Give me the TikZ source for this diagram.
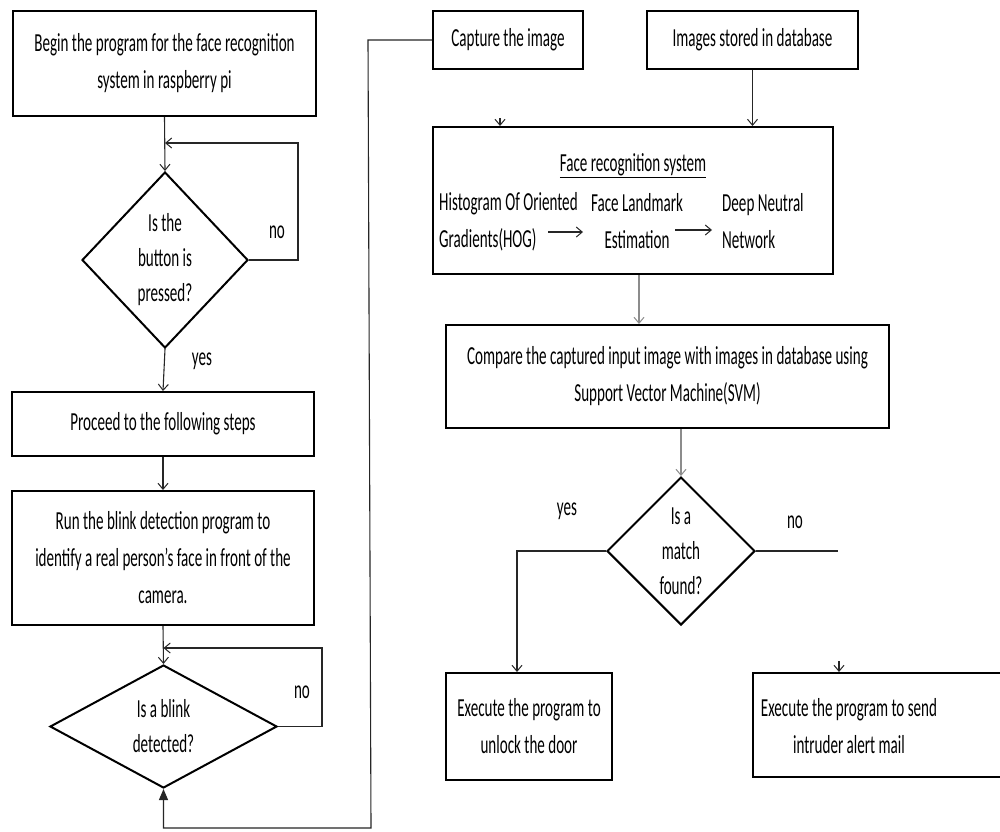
\documentclass[tikz,border=0pt]{standalone}
\usepackage{fontspec}
\setmainfont{Carlito}[FakeStretch=0.58]
\usetikzlibrary{shapes.geometric,arrows.meta}
\tikzset{
  every node/.style={font=\fontsize{26}{37}\selectfont, inner sep=0pt},
  stepbox/.style={draw=black, line width=2pt, rectangle, align=center},
  dia/.style={draw=black, line width=2pt, diamond, aspect=1},
  lbl/.style={align=center, font=\fontsize{26}{35}\selectfont},
  conn/.style={line width=1.1pt, draw=black!85},
  arr/.style={conn, -{Straight Barb[length=6pt,width=10pt,line width=1pt]}},
  garr/.style={arr, draw=black!45},
  farr/.style={conn, -{Triangle[length=11pt,width=9pt]}},
  txt/.style={align=center},
}
\begin{document}
\begin{tikzpicture}[x=1pt,y=-1pt]
\useasboundingbox (0,0) rectangle (1000,831);
\fill[white] (0,0) rectangle (1000,831);

% ---------- left column ----------
\node[stepbox, minimum width=303, minimum height=105] (b1) at (164.5,63.5)
  {Begin the program for the face recognition\\system in raspberry pi};
\node[dia, minimum width=166, minimum height=176,
  label={[lbl]center:{Is the\\button is\\pressed?}}] (d1) at (165,260) {};
\node (no1) at (277,232) {no};
\coordinate (l1) at (298,143);

\node[stepbox, minimum width=302, minimum height=64] (b2) at (163,424)
  {Proceed to the following steps};
\node (yes1) at (202,361) {yes};

\node[stepbox, minimum width=302, minimum height=134] (b3) at (163,558)
  {Run the blink detection program to\\identify a real person’s face in front of the\\camera.};

\node[dia, minimum width=227, minimum height=123,
  label={[lbl]center:{Is a blink\\detected?}}] (d2) at (163.5,726.5) {};
\node (no2) at (302,692) {no};
\coordinate (l2) at (322,648);

\draw[arr] (b1.south) -- (d1.north);
\draw[arr] (d1.east) -| (l1) -- (l1 -| d1.north);
\draw[arr] (d1.south) -- (b2.north);
\draw[arr] (b2.south) -- (b3.north);
\draw[arr] (b3.south) -- (d2.north);
\draw[arr] (d2.east) -| (l2) -- (l2 -| d2.north);

% ---------- right column ----------
\node[stepbox, minimum width=150, minimum height=58] (cap) at (508,40)
  {Capture the image};
\node[stepbox, minimum width=211, minimum height=58] (db) at (752.5,40)
  {Images stored in database};

\node[stepbox, minimum width=400, minimum height=147] (fr) at (633,200.5) {};
\node[txt] (frt) at (633,166) {\underline{Face recognition system}};
\node[align=left, anchor=west] (hog) at (439,221.5) {Histogram Of Oriented\\Gradients(HOG)};
\node[txt] (fle) at (637,221.5) {Face Landmark\\Estimation};
\node[align=left, anchor=west] (dnn) at (722,221.5) {Deep Neutral\\Network};
\coordinate (a1s) at (548,232);
\coordinate (a1e) at (583,232);
\coordinate (a2s) at (675,230);
\coordinate (a2e) at (712,230);
\draw[arr] (a1s) -- (a1e);
\draw[arr] (a2s) -- (a2e);

\coordinate (capstub) at (500,118);
\draw[arr] (capstub) -- (capstub |- fr.north);
\draw[arr] (db.south) -- (db.south |- fr.north);

\node[stepbox, minimum width=443, minimum height=103] (cmp) at (667.5,376.5)
  {Compare the captured input image with images in database using\\Support Vector Machine(SVM)};
\draw[garr] ([xshift=6pt]fr.south) -- ([xshift=6pt]fr.south |- cmp.north);

\node[dia, minimum width=148, minimum height=148,
  label={[lbl]center:{Is a\\match\\found?}}] (d3) at (681,551) {};
\draw[garr] (d3.north |- cmp.south) -- (d3.north);
\node (yes3) at (567,511) {yes};
\node (no3) at (795,522) {no};

\node[stepbox, minimum width=166, minimum height=107] (ul) at (529,726.5)
  {Execute the program to\\unlock the door};
\draw[arr] (d3.west) -| ([xshift=-12pt]ul.north);

\node[stepbox, minimum width=252, minimum height=104] (ia) at (879,725) {};
\node[txt] (iat) at (849,726) {Execute the program to send\\intruder alert mail};
\coordinate (noend) at (838,551);
\draw[conn] (d3.east) -- (noend);
\coordinate (iastub) at (839,661);
\draw[arr] (iastub) -- (iastub |- ia.north);

% ---------- capture loop back ----------
\coordinate (k1) at (368,40);
\coordinate (k2) at (371,828);
\draw[farr] (cap.west) -- (k1) -- (k2) -- (k2 -| d2.south) -- (d2.south);
\end{tikzpicture}
\end{document}
